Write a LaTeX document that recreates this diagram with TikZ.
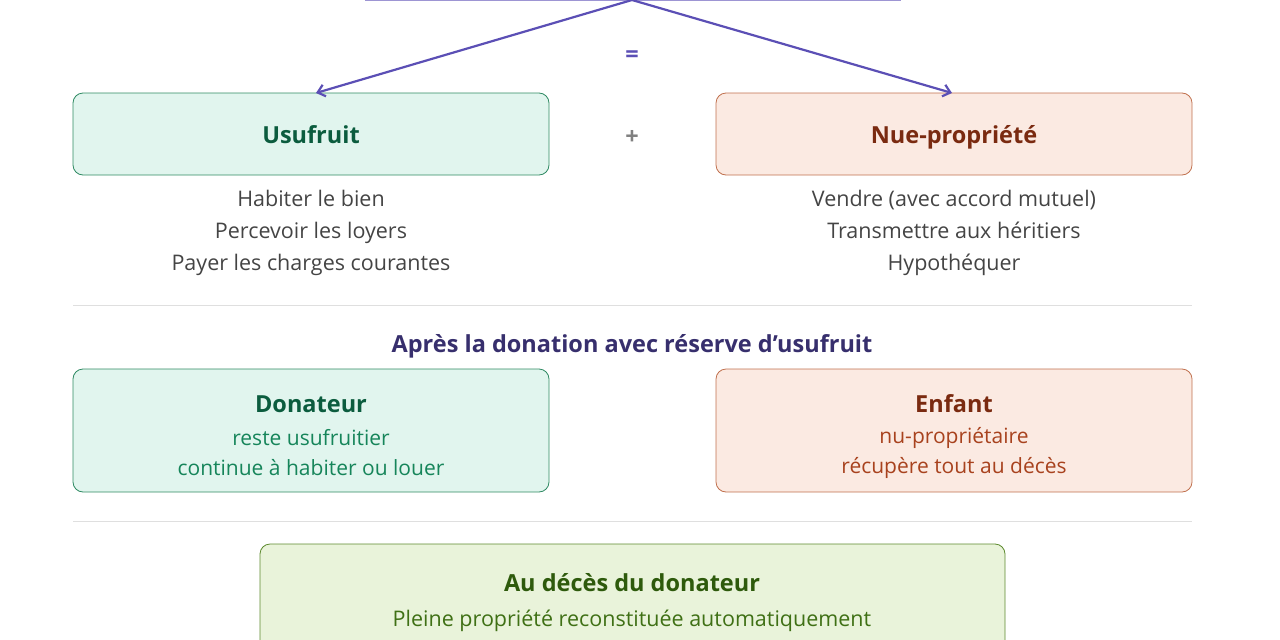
\documentclass[tikz,border=0pt]{standalone}
\usepackage{fontspec}
\setmainfont{Open Sans}
\usetikzlibrary{arrows.meta}
\definecolor{pur}{HTML}{5B4FB5}
\definecolor{gfill}{HTML}{E1F5EE}\definecolor{gdraw}{HTML}{2F8A63}\definecolor{gtxt}{HTML}{0B5C3E}\definecolor{gtxt2}{HTML}{16855A}
\definecolor{ofill}{HTML}{FBEAE2}\definecolor{odraw}{HTML}{C0704E}\definecolor{otxt}{HTML}{7A2A10}\definecolor{otxt2}{HTML}{A8421E}
\definecolor{lfill}{HTML}{E9F3DA}\definecolor{ldraw}{HTML}{5D8A2E}\definecolor{ltxt}{HTML}{2E5A0C}\definecolor{ltxt2}{HTML}{3F7015}
\definecolor{body}{HTML}{444444}
\begin{document}
\begin{tikzpicture}[x=1pt,y=-1pt,
 box/.style={rounded corners=10pt,line width=0.8pt},
 ttl/.style={font=\fontsize{23.5}{28}\selectfont\bfseries,anchor=base,inner sep=0pt},
 sub/.style={font=\fontsize{21.5}{32}\selectfont,align=center}]
\useasboundingbox (0,0) rectangle (1280,640);
\begin{scope}
\clip (0,0) rectangle (1280,640);
\draw[pur!60,line width=1pt,fill=pur!8] (365,-30) rectangle (900,0);
\coordinate (top) at (632,0);
\draw[box,draw=gdraw,fill=gfill] (73,93) rectangle (549,175);
\draw[box,draw=odraw,fill=ofill] (716,93) rectangle (1192,175);
\coordinate (u) at (316,93); \coordinate (n) at (952,93);
\draw[pur,line width=2.2pt,-{Straight Barb[length=7pt,width=12pt]}] (top) -- (u);
\draw[pur,line width=2.2pt,-{Straight Barb[length=7pt,width=12pt]}] (top) -- (n);
\node[ttl,text=pur] (eq) at (632,62) {=};
\node[ttl,text=gray] (plus) at (632,144) {+};
\node[ttl,text=gtxt] (us) at (311,143) {Usufruit};
\node[ttl,text=otxt] (np) at (954,143) {Nue-propriété};
\node[sub,text=body] (ul) at (311,233) {Habiter le bien\\Percevoir les loyers\\Payer les charges courantes};
\node[sub,text=body] (nl) at (954,233) {Vendre (avec accord mutuel)\\Transmettre aux héritiers\\Hypothéquer};
\draw[gray!25,line width=1pt] (73,305) -- (1192,305);
\draw[gray!25,line width=1pt] (73,521) -- (1192,521);
\node[ttl,text=pur!60!black] (h) at (632,352) {Après la donation avec réserve d'usufruit};
\draw[box,draw=gdraw,fill=gfill] (73,369) rectangle (549,492);
\draw[box,draw=odraw,fill=ofill] (716,369) rectangle (1192,492);
\node[ttl,text=gtxt] (d) at (311,412) {Donateur};
\node[sub,text=gtxt2,font=\fontsize{21}{30}\selectfont] (dl) at (311,453) {reste usufruitier\\continue à habiter ou louer};
\node[ttl,text=otxt] (e) at (954,412) {Enfant};
\node[sub,text=otxt2,font=\fontsize{21}{30}\selectfont] (el) at (954,453) {nu-propriétaire\\récupère tout au décès};
\draw[box,draw=ldraw,fill=lfill] (260,544) rectangle (1005,700);
\node[ttl,text=ltxt] (a) at (632,591) {Au décès du donateur};
\node[sub,text=ltxt2] (al) at (632,621) {Pleine propriété reconstituée automatiquement};
\end{scope}
\end{tikzpicture}
\end{document}
